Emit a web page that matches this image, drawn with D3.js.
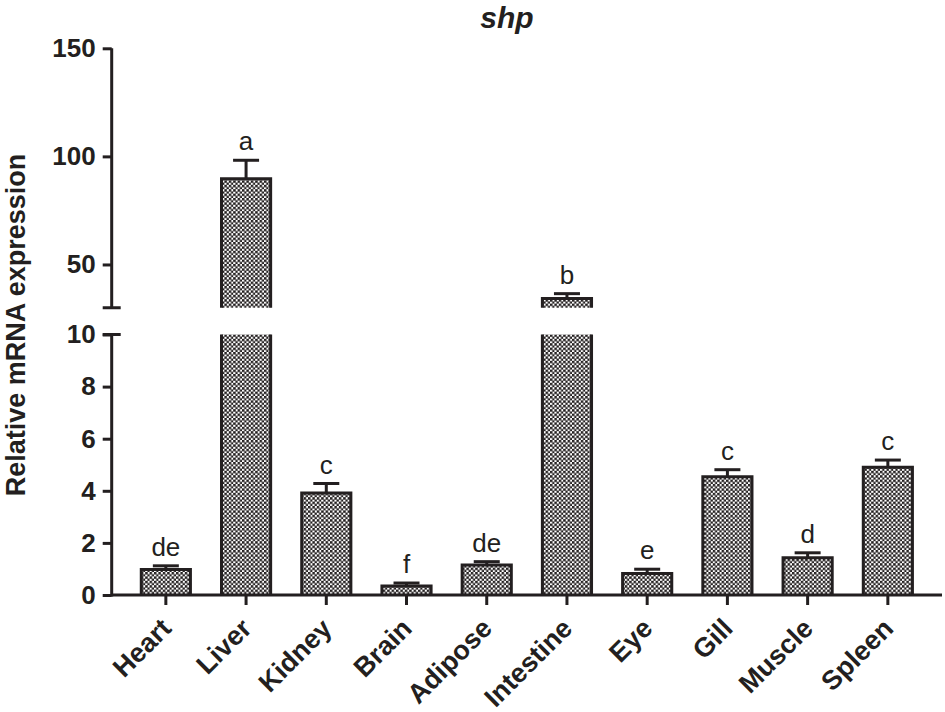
<!DOCTYPE html>
<html>
<head>
<meta charset="utf-8">
<script src="https://cdn.jsdelivr.net/npm/d3@7"></script>
<style>
  html, body { margin: 0; padding: 0; background: #fff; }
  svg { display: block; }
  text { font-family: "Liberation Sans", Arial, Helvetica, sans-serif; fill: #231f20; }
</style>
</head>
<body>
<svg id="chart" width="945" height="712"></svg>
<script>
// ---- data ----
const categories = ["Heart", "Liver", "Kidney", "Brain", "Adipose", "Intestine", "Eye", "Gill", "Muscle", "Spleen"];
const means      = [0.98, 89.7, 3.92, 0.35, 1.15, 34.2, 0.83, 4.54, 1.43, 4.90];
const errors     = [0.14, 8.5, 0.36, 0.11, 0.13, 2.3, 0.16, 0.27, 0.19, 0.28];
const letters    = ["de", "a", "c", "f", "de", "b", "e", "c", "d", "c"];
const lowTicks   = [0, 2, 4, 6, 8, 10];
const highTicks  = [50, 100, 150];
const lowDomain  = [0, 10];
const highDomain = [30, 150];
const title = "shp";
const yLabel = "Relative mRNA expression";

// ---- layout ----
const ink = "#231f20";
const axisX = 111.7, xRight = 942;
const svg = d3.select("#chart");

const x = d3.scaleBand().domain(categories).range([axisX, xRight]).padding(0.35);
const yLow = d3.scaleLinear().domain(lowDomain).range([595, 334.5]);
const yHigh = d3.scaleLinear().domain(highDomain).range([307.7, 48.3]);
const yOf = v => v <= lowDomain[1] ? yLow(v) : yHigh(v);

// pattern
const defs = svg.append("defs");
const P = 4.4, h = P / 2, s = 2.45;
const pat = defs.append("pattern").attr("id", "checker")
  .attr("patternUnits", "userSpaceOnUse").attr("width", P).attr("height", P);
pat.append("rect").attr("width", P).attr("height", P).attr("fill", "#fff");
pat.append("rect").attr("width", s).attr("height", s).attr("fill", ink);
pat.append("rect").attr("x", h).attr("y", h).attr("width", s).attr("height", s).attr("fill", ink);

const data = categories.map((c, i) => ({ c, v: means[i], e: errors[i], l: letters[i] }));
const sw = 3;

// bars
const bars = svg.append("g");
data.forEach(d => {
  const x0 = x(d.c) + sw / 2, x1 = x(d.c) + x.bandwidth() - sw / 2;
  const topLow = yLow(Math.min(d.v, lowDomain[1]));
  bars.append("rect").attr("x", x0).attr("y", topLow).attr("width", x1 - x0)
    .attr("height", yLow(0) - topLow).attr("fill", "url(#checker)");
  const broken = d.v > lowDomain[1];
  const pLow = d3.path();
  pLow.moveTo(x0, yLow(0)); pLow.lineTo(x0, topLow);
  if (broken) { pLow.moveTo(x1, topLow); } else { pLow.lineTo(x1, topLow); }
  pLow.lineTo(x1, yLow(0));
  bars.append("path").attr("d", pLow.toString()).attr("fill", "none")
    .attr("stroke", ink).attr("stroke-width", sw);
  if (broken && d.v > highDomain[0]) {
    const topH = yHigh(d.v), botH = yHigh(highDomain[0]);
    bars.append("rect").attr("x", x0).attr("y", topH).attr("width", x1 - x0)
      .attr("height", botH - topH).attr("fill", "url(#checker)");
    const pH = d3.path();
    pH.moveTo(x0, botH); pH.lineTo(x0, topH); pH.lineTo(x1, topH); pH.lineTo(x1, botH);
    bars.append("path").attr("d", pH.toString()).attr("fill", "none")
      .attr("stroke", ink).attr("stroke-width", sw);
  }
  // error bar
  const cx = x(d.c) + x.bandwidth() / 2;
  const yTop = yOf(d.v + d.e), yBar = yOf(d.v);
  bars.append("line").attr("x1", cx).attr("x2", cx).attr("y1", yBar).attr("y2", yTop)
    .attr("stroke", ink).attr("stroke-width", sw);
  bars.append("line").attr("x1", cx - 13).attr("x2", cx + 13).attr("y1", yTop).attr("y2", yTop)
    .attr("stroke", ink).attr("stroke-width", sw);
  bars.append("text").attr("x", cx).attr("y", yTop - 10).attr("text-anchor", "middle")
    .style("font-size", "26px").text(d.l);
});

// y axes
function styleAxis(g) {
  g.select(".domain").remove();
  g.selectAll(".tick line").attr("stroke", ink).attr("stroke-width", sw);
  g.selectAll(".tick text").style("font-size", "26px").style("font-weight", "bold").attr("fill", ink);
}
svg.append("g").attr("transform", `translate(${axisX},0)`)
  .call(d3.axisLeft(yLow).tickValues(lowTicks).tickSize(9).tickPadding(7).tickFormat(d3.format("d")))
  .call(styleAxis);
svg.append("g").attr("transform", `translate(${axisX},0)`)
  .call(d3.axisLeft(yHigh).tickValues(highTicks).tickSize(9).tickPadding(7).tickFormat(d3.format("d")))
  .call(styleAxis);
const spine = d3.path();
spine.moveTo(axisX, yLow(0) + 1.5); spine.lineTo(axisX, yLow(lowDomain[1]));
spine.moveTo(axisX - 9, yLow(lowDomain[1])); spine.lineTo(axisX + 9, yLow(lowDomain[1]));
spine.moveTo(axisX, yHigh(highDomain[0])); spine.lineTo(axisX, yHigh(highDomain[1]));
spine.moveTo(axisX - 9, yHigh(highDomain[0])); spine.lineTo(axisX + 9, yHigh(highDomain[0]));
svg.append("path").attr("d", spine.toString()).attr("fill", "none")
  .attr("stroke", ink).attr("stroke-width", sw);

// x axis
const xg = svg.append("g").attr("transform", `translate(0,${yLow(0)})`)
  .call(d3.axisBottom(x).tickSize(10).tickSizeOuter(0).tickPadding(0));
xg.select(".domain").attr("stroke", ink).attr("stroke-width", sw)
  .attr("d", `M${axisX},0H${xRight}`);
xg.selectAll(".tick line").attr("stroke", ink).attr("stroke-width", sw);
xg.selectAll(".tick text")
  .style("font-size", "27px").style("font-weight", "bold").attr("fill", ink)
  .attr("text-anchor", "end")
  .attr("dy", null)
  .attr("transform", "translate(7,35) rotate(-45)")
  .attr("y", 0).attr("x", 0);

// title
svg.append("text").attr("x", 507).attr("y", 28).attr("text-anchor", "middle")
  .style("font-size", "30px").style("font-weight", "bold").style("font-style", "italic").text(title);

// y label
svg.append("text").attr("transform", `translate(24.5,${(143 + 507) / 2}) rotate(-90)`)
  .attr("text-anchor", "middle").style("font-size", "27px").style("font-weight", "bold").text(yLabel);
</script>
</body>
</html>
